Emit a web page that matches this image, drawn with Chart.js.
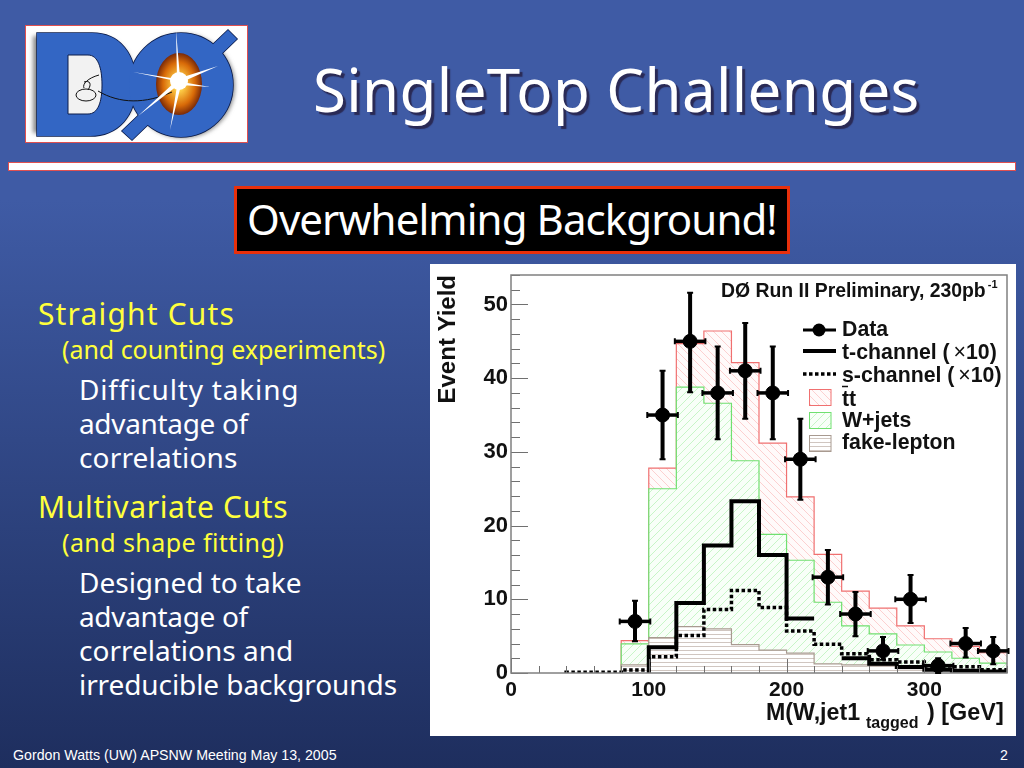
<!DOCTYPE html>
<html lang="en">
<head>
<meta charset="UTF-8">
<title>SingleTop Challenges</title>
<script src="https://cdn.jsdelivr.net/npm/chart.js"></script>
<style>
    html, body { margin: 0; padding: 0; }
    body {
        width: 1024px; height: 768px; overflow: hidden; position: relative;
        background: linear-gradient(#3f5ba5 0, #3f5ba5 200px, #1e2e5e 768px);
        font-family: "Noto Sans", sans-serif;
    }
    .line { position: absolute; white-space: nowrap; line-height: 1; }
    .yellow { color: #ffff3c; }
    .white { color: #fff; }
    #title { text-shadow: 3px 3px 1px #2a2a55; }
    #rule { position: absolute; left: 8px; top: 162px; width: 1006px; height: 7px; background: #fff; border: 1px solid #e05050; }
    #box { position: absolute; left: 234px; top: 186px; width: 550px; height: 62px; background: #000; border: 3px solid #e8300c; }
    #logo { position: absolute; left: 25px; top: 25px; }
    #plot { position: absolute; left: 430px; top: 264px; width: 586px; height: 472px; background: #fff; }
    .foot { position: absolute; top: 747px; font: 14.2px "Liberation Sans", sans-serif; color: #fff; }
</style>
</head>
<body>
<svg id="logo" width="224" height="119" viewBox="25 25 224 119">
    <defs>
        <radialGradient id="fire"><stop offset="0.2" stop-color="#ffd24a"/><stop offset="0.7" stop-color="#d86a08"/><stop offset="1" stop-color="#7a2a08"/></radialGradient>
        <filter id="soft"><feGaussianBlur stdDeviation="2"/></filter>
    </defs>
    <rect x="25.5" y="25.5" width="222" height="117" fill="#fff" stroke="#e05050"/>
    <g filter="url(#soft)" fill="#8a8a8a">
        <path d="M33 36 H92 C120 36 136 56 136 85 C136 116 118 133 90 133 H33 Z"/>
        <ellipse cx="183" cy="86" rx="52" ry="52"/>
    </g>
    <g fill="#0c1c4a" stroke="#0c1c4a" stroke-width="1.5">
        <path d="M37 33 H92 C120 33 136 54 136 85 C136 116 118 136 90 136 H37 Z"/>
        <path d="M122 131 L228 30 L237 39 L132 140 Z"/>
        <ellipse cx="181" cy="85" rx="52" ry="52"/>
    </g>
    <g fill="#3366c4">
        <path d="M37 33 H92 C120 33 136 54 136 85 C136 116 118 136 90 136 H37 Z"/>
        <path d="M122 131 L228 30 L237 39 L132 140 Z"/>
        <ellipse cx="181" cy="85" rx="52" ry="52"/>
    </g>
    <path d="M68 55 H88 C98 55 102 68 102 85 C102 102 98 114 88 114 H68 Z" fill="#f2f2f2" stroke="#0c1c4a"/>
    <ellipse cx="179" cy="84" rx="23" ry="31" fill="url(#fire)"/>
    <path d="M98 91 C120 104 145 104 172 92" fill="none" stroke="#111" stroke-width="1"/>
    <ellipse cx="86" cy="95" rx="10" ry="6" fill="none" stroke="#111" stroke-width="1"/>
    <path d="M99 75 C88 78 82 84 84 88 M84 82 C90 80 92 84 88 90" fill="none" stroke="#111" stroke-width="1"/>
    <path d="M176 30 L180 78 L218 66 L182 82 L210 87 L181 85 L170 130 L177 86 L138 116 L176 81 L133 72 L177 79 Z" fill="#fff"/>
    <circle cx="179" cy="81" r="9" fill="#fff"/>
</svg>
<div id="rule"></div>
<div id="box"></div>
<div id="plot"><canvas id="chart" width="586" height="472"></canvas></div>
<div class="foot" style="left:13px">Gordon Watts (UW) APSNW Meeting May 13, 2005</div>
<div class="foot" style="left:1000px">2</div>

<script>
    // bin lower edges [GeV], width 20
    const binLow = [40, 60, 80, 100, 120, 140, 160, 180, 200, 220, 240, 260, 280, 300, 320, 340];
    const binWidth = 20;

    // stacked histograms
    const ttTotal = [null, null, 4.4, 27.8, 44.7, 46.4, 42.1, 31.2, 23.9, 16.1, 11.1, 8.8, 6.4, 4.65, 3.6, 2.75];
    const wjets = [null, null, 3.95, 25, 38.8, 36.6, 28.8, 18.8, 15.3, 9.6, 6.4, 5.3, 3.8, 2.85, 2, 1.35];
    const fakeLepton = [null, null, 1.1, 4.8, 6.3, 6, 3.85, 3.1, 2.7, 1.25, 1.1, 1, 0.6, 0.4, 0.3, 0.2];
    const tChannel = [null, null, null, 3.5, 9.5, 17.3, 23.3, 16, 7.4, null, 2, 1.25, 0.8, 0.45, 0.3, 0.2];
    const sChannel = [0.1, 0.1, 0.4, 2.2, 5.1, 8.6, 11.2, 8.9, 5.7, 3.9, 2.6, 1.8, 1.5, 0.95, 0.85, 0.45];

    // data points
    const dataX = [90, 110, 130, 150, 170, 190, 210, 230, 250, 270, 290, 310, 330, 350];
    const dataY = [7, 35, 45, 38, 41, 38, 29, 13, 8, 3, 10, 1, 4, 3];
    const dataHi = [9.8, 41, 51.6, 44.3, 47.5, 44.3, 34.5, 16.7, 11, 4.9, 13.3, 2, 6.1, 4.9];
    const dataLo = [4.3, 29, 38.1, 31.7, 34.5, 31.7, 23.5, 9.3, 5, 1.8, 6.8, 0, 2.1, 1.2];

    const xTickLabels = [0, 100, 200, 300];
    const yTickLabels = [0, 10, 20, 30, 40, 50];
    const legendNames = ['Data', 't-channel ( ', 's-channel ( ', 'tt', 'W+jets', 'fake-lepton'];

    // slide text: text, left, baseline, width, size, class
    const slideText = [
        ['SingleTop Challenges', 313, 111, 607, 60, 'white', 'title'],
        ['Overwhelming Background!', 247, 234, 530, 42, 'white'],
        ['Straight Cuts', 38, 325, 197, 30, 'yellow'],
        ['(and counting experiments)', 62, 358, 323, 25, 'yellow'],
        ['Difficulty taking', 79, 399, 220, 28, 'white'],
        ['advantage of', 79, 433, 169, 28, 'white'],
        ['correlations', 79, 467, 159, 28, 'white'],
        ['Multivariate Cuts', 38, 518, 250, 30, 'yellow'],
        ['(and shape fitting)', 62, 551, 222, 25, 'yellow'],
        ['Designed to take', 79, 592, 223, 28, 'white'],
        ['advantage of', 79, 626, 169, 28, 'white'],
        ['correlations and', 79, 660, 214, 28, 'white'],
        ['irreducible backgrounds', 79, 694, 318, 28, 'white']
    ];

    slideText.forEach(t => {
        const el = document.createElement('div');
        el.className = 'line ' + t[5];
        if (t[6]) el.id = t[6];
        el.textContent = t[0];
        el.style.fontSize = t[4] + 'px';
        el.style.left = t[1] + 'px';
        el.style.top = (t[2] - t[4] * 0.86) + 'px';
        document.body.appendChild(el);
        el.style.letterSpacing = ((t[3] - el.offsetWidth) / t[0].length) + 'px';
    });

    // turn bin contents into the corner points of a step line
    function stepPoints(values) {
        const pts = [];
        let started = false;
        values.forEach((v, i) => {
            const lo = binLow[i], hi = lo + binWidth;
            if (v === null) {
                if (started) pts.push({ x: lo, y: null });
                return;
            }
            if (!started) { pts.push({ x: lo, y: 0 }); started = true; }
            pts.push({ x: lo, y: v }, { x: hi, y: v });
        });
        return pts;
    }

    function hatch(color, paper, kind) {
        const size = kind === 'flat' ? 4 : 8;
        const tile = document.createElement('canvas');
        tile.width = size; tile.height = size;
        const c = tile.getContext('2d');
        c.fillStyle = paper;
        c.fillRect(0, 0, size, size);
        c.strokeStyle = color;
        c.lineWidth = 1;
        c.beginPath();
        if (kind === 'flat') {
            c.moveTo(0, 2.5); c.lineTo(size, 2.5);
        } else if (kind === 'down') {
            c.moveTo(-1, -1); c.lineTo(size + 1, size + 1);
            c.moveTo(-1, size - 1); c.lineTo(1, size + 1);
            c.moveTo(size - 1, -1); c.lineTo(size + 1, 1);
        } else {
            c.moveTo(-1, size + 1); c.lineTo(size + 1, -1);
            c.moveTo(-1, 1); c.lineTo(1, -1);
            c.moveTo(size - 1, size + 1); c.lineTo(size + 1, size - 1);
        }
        c.stroke();
        return document.createElement('canvas').getContext('2d').createPattern(tile, 'repeat');
    }

    const ttFill = hatch('#fcd0d0', '#fffafa', 'down');
    const wFill = hatch('#c8f5c8', '#f8fff8', 'up');
    const fakeFill = hatch('#d0c6c0', '#ffffff', 'flat');

    function histSet(label, values, color, fill, order) {
        return {
            label: label, data: stepPoints(values), borderColor: color, borderWidth: 1.2,
            backgroundColor: fill, fill: 'origin', pointRadius: 0, order: order, tension: 0
        };
    }

    // ROOT style frame with the ticks on the inside
    const framePlugin = {
        id: 'frame',
        afterDatasetsDraw(chart) {
            const { ctx, chartArea: a, scales } = chart;
            ctx.save();
            ctx.strokeStyle = '#707070';
            ctx.lineWidth = 1;
            ctx.beginPath();
            scales.x.ticks.forEach(t => {
                const px = Math.round(scales.x.getPixelForValue(t.value)) + 0.5;
                ctx.moveTo(px, a.bottom);
                ctx.lineTo(px, a.bottom - (t.value % 100 === 0 ? 14 : 7));
            });
            scales.y.ticks.forEach(t => {
                const py = Math.round(scales.y.getPixelForValue(t.value)) + 0.5;
                ctx.moveTo(a.left, py);
                ctx.lineTo(a.left + (t.value % 10 === 0 ? 17 : 9), py);
            });
            ctx.stroke();
            ctx.lineWidth = 1.5;
            ctx.strokeStyle = '#808080';
            ctx.strokeRect(a.left, a.top, a.right - a.left, a.bottom - a.top);
            ctx.restore();
        }
    };

    const errorBarPlugin = {
        id: 'errorBars',
        afterDatasetsDraw(chart) {
            const { ctx, scales: { x, y } } = chart;
            ctx.save();
            ctx.strokeStyle = '#000';
            dataX.forEach((v, i) => {
                const px = x.getPixelForValue(v);
                const py = y.getPixelForValue(dataY[i]);
                const top = y.getPixelForValue(dataHi[i]);
                const bottom = y.getPixelForValue(dataLo[i]);
                const left = x.getPixelForValue(v - binWidth / 2) - 1.5;
                const right = x.getPixelForValue(v + binWidth / 2) + 1.5;
                ctx.lineWidth = 4;
                ctx.beginPath();
                ctx.moveTo(px, top); ctx.lineTo(px, bottom);
                ctx.stroke();
                ctx.lineWidth = 3.5;
                ctx.beginPath();
                ctx.moveTo(left, py); ctx.lineTo(right, py);
                ctx.stroke();
                ctx.lineWidth = 2;
                ctx.beginPath();
                ctx.moveTo(px - 3, top); ctx.lineTo(px + 3, top);
                ctx.moveTo(px - 3, bottom); ctx.lineTo(px + 3, bottom);
                ctx.moveTo(left, py - 3); ctx.lineTo(left, py + 3);
                ctx.moveTo(right, py - 3); ctx.lineTo(right, py + 3);
                ctx.stroke();
            });
            ctx.restore();
        }
    };

    // legend, header and x title: these need mixed sizes, so they are drawn here
    const annotationPlugin = {
        id: 'annotations',
        afterDraw(chart) {
            const ctx = chart.ctx;
            const ds = chart.data.datasets;
            const bold = s => 'bold ' + s + 'px "Liberation Sans", Arial, sans-serif';
            const put = (text, x, y, font) => {
                ctx.font = font;
                ctx.fillText(text, x, y);
                return x + ctx.measureText(text).width;
            };
            ctx.save();
            ctx.fillStyle = '#111';
            ctx.textBaseline = 'alphabetic';
            ctx.textAlign = 'left';

            // header
            let end = put('DØ Run II Preliminary, 230pb', 291, 33, bold(19.4));
            put('-1', end + 2, 24, bold(11));

            // legend handles
            ctx.strokeStyle = '#000';
            ctx.lineWidth = 3;
            ctx.beginPath(); ctx.moveTo(373, 66); ctx.lineTo(406, 66); ctx.stroke();
            ctx.beginPath(); ctx.arc(389, 66, 6.5, 0, Math.PI * 2); ctx.fillStyle = '#000'; ctx.fill();
            ctx.lineWidth = 4;
            ctx.beginPath(); ctx.moveTo(373, 87); ctx.lineTo(406, 87); ctx.stroke();
            ctx.lineWidth = 3.5;
            ctx.setLineDash([3.5, 2.5]);
            ctx.beginPath(); ctx.moveTo(373, 110); ctx.lineTo(406, 110); ctx.stroke();
            ctx.setLineDash([]);
            [[0, 125], [1, 148], [2, 171]].forEach(([d, top]) => {
                ctx.fillStyle = ds[d].backgroundColor;
                ctx.fillRect(379, top, 22, 16.5);
                ctx.strokeStyle = ds[d].borderColor;
                ctx.lineWidth = 1;
                ctx.strokeRect(379.5, top + 0.5, 21.5, 16);
            });

            // legend text
            ctx.fillStyle = '#111';
            const size = 21.3;
            put(legendNames[0], 412, 72, bold(size));
            [[1, 95], [2, 118]].forEach(([n, y]) => {
                let xx = put(legendNames[n], 412, y, bold(size));
                xx = put('\u00d7', xx - 2, y, size + 'px "Liberation Sans", Arial, sans-serif');
                put('10)', xx, y, bold(size));
            });
            put(legendNames[3], 412, 142, bold(size));
            ctx.strokeStyle = '#111';
            ctx.lineWidth = 1.5;
            ctx.beginPath(); ctx.moveTo(412, 122.5); ctx.lineTo(418, 122.5); ctx.stroke();
            put(legendNames[4], 412, 163, bold(size));
            put(legendNames[5], 412, 185, bold(size));

            // x title
            put('M(W,jet1', 336, 456, bold(23.2));
            put('tagged', 436, 464, bold(16));
            put(') [GeV]', 497, 456, bold(23.4));
            ctx.restore();
        }
    };

    new Chart(document.getElementById('chart').getContext('2d'), {
        type: 'line',
        data: {
            datasets: [
                histSet('tt', ttTotal, '#f07070', ttFill, 6),
                histSet('W+jets', wjets, '#70e070', wFill, 5),
                histSet('fake-lepton', fakeLepton, '#a89a90', fakeFill, 4),
                { label: 't-channel', data: stepPoints(tChannel), borderColor: '#000', borderWidth: 4, pointRadius: 0, fill: false, order: 3, borderJoinStyle: 'miter' },
                { label: 's-channel', data: stepPoints(sChannel), borderColor: '#000', borderWidth: 3.5, borderDash: [3.5, 2.5], pointRadius: 0, fill: false, order: 2 },
                { label: 'Data', data: dataX.map((v, i) => ({ x: v, y: dataY[i] })), showLine: false, pointRadius: 7, pointBackgroundColor: '#000', pointBorderColor: '#000', order: 1 }
            ]
        },
        options: {
            responsive: false,
            animation: false,
            layout: { padding: { top: 11, right: 9, left: 0, bottom: 0 } },
            plugins: { legend: { display: false }, tooltip: { enabled: false } },
            scales: {
                x: {
                    type: 'linear', min: 0, max: 360,
                    grid: { display: false, drawTicks: false }, border: { display: false },
                    afterFit(s) { s.height = 63; s.paddingRight = 0; s.paddingLeft = 0; },
                    ticks: {
                        stepSize: 20, autoSkip: false, maxRotation: 0, padding: 5, color: '#111',
                        font: { family: '"Liberation Sans", Arial, sans-serif', size: 21, weight: 'bold' },
                        callback: v => xTickLabels.includes(v) ? String(v) : ''
                    }
                },
                y: {
                    type: 'linear', min: 0, max: 54,
                    grid: { display: false, drawTicks: false }, border: { display: false },
                    afterFit(s) { s.width = 81; s.paddingTop = 0; s.paddingBottom = 0; },
                    title: {
                        display: true, text: 'Event Yield', align: 'end', color: '#111', padding: { top: 4, bottom: 0 },
                        font: { family: '"Liberation Sans", Arial, sans-serif', size: 24, weight: 'bold' }
                    },
                    ticks: {
                        stepSize: 2, autoSkip: false, padding: 3, color: '#111',
                        font: { family: '"Liberation Sans", Arial, sans-serif', size: 22, weight: 'bold' },
                        callback: v => yTickLabels.includes(v) ? String(v) : ''
                    }
                }
            }
        },
        plugins: [framePlugin, errorBarPlugin, annotationPlugin]
    });
</script>
</body>
</html>
